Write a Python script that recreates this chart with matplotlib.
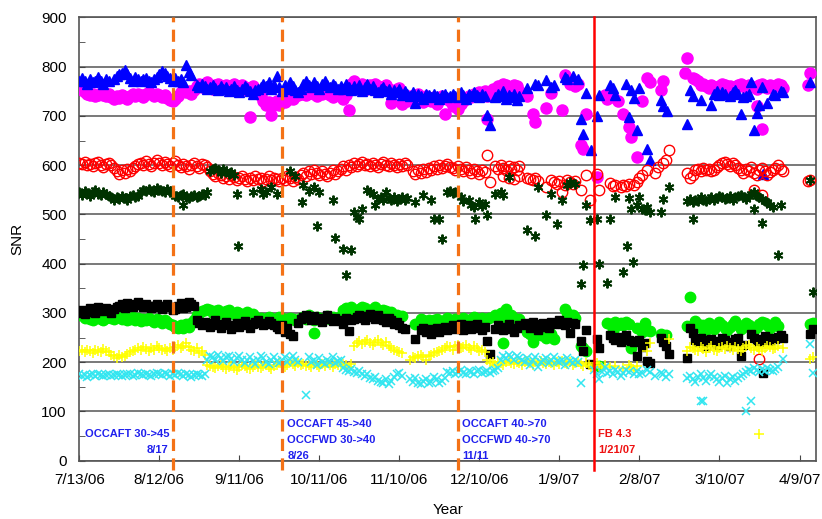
import numpy as np
import pandas as pd
import matplotlib
matplotlib.use("Agg")
import matplotlib.pyplot as plt
import matplotlib.dates as mdates

plt.rcParams['font.family'] = ['Liberation Sans', 'DejaVu Sans']

# ---------------- data (days since 7/13/06, SNR values) ----------------
start_date = '2006-07-13'
x_tick_labels = ['7/13/06', '8/12/06', '9/11/06', '10/11/06', '11/10/06',
                 '12/10/06', '1/9/07', '2/8/07', '3/10/07', '4/9/07']
y_ticks = [0, 100, 200, 300, 400, 500, 600, 700, 800, 900]

# blue triangles
tri_runs = [
    (0, [772, 778, 770, 765, 775, 768, 772, 780, 770, 765, 775, 770]),
    (13, [775, 782, 785, 788, 794, 785, 778, 772, 780, 776, 770, 775, 778, 772, 768, 775]),
    (29, [780, 785, 792, 788, 782, 778, 772, 778, 770, 775, 768]),
    (40, [804, 790, 784]),
    (44, [762, 758, 765, 760, 755, 758, 762, 757, 752, 760, 755, 758, 750, 755, 760, 752, 748, 755,
          760, 757, 750, 745, 752, 755, 758]),
    (69, [765, 760, 768, 755, 762, 782, 758, 750, 762, 755, 768, 760, 752, 748, 755]),
    (84, [765, 770, 762, 758, 768, 760, 755, 765, 770, 762, 758, 765, 760, 755]),
    (98, [760, 755, 765, 758, 752, 760, 755, 762, 750, 758, 765, 755, 760, 752, 748, 755, 758, 750,
          755, 745, 752, 748, 755, 742, 750, 745, 740, 748]),
    (126, [727, 745, 740, 735, 745, 742, 738, 745, 740, 735, 742, 745, 738, 740]),
    (140, [745, 740, 738, 748, 742, 735, 745, 740, 748, 742, 738, 745, 740]),
    (153, [701, 681]),
    (156, [738, 745, 740, 750, 735, 742, 738, 745, 732, 740]),
]
tri_pts_day = [168, 171, 172, 175, 177, 178, 182, 183, 185, 187, 188, 189, 190, 192, 194, 195, 199,
               200, 201, 205, 206, 207, 208, 209, 210, 213, 214, 218, 219, 220.5, 228, 229, 230, 233,
               237, 238, 239, 240, 241, 242, 244, 245, 246, 247, 248, 249, 250, 251, 252, 253, 254,
               255, 256, 256.5, 258, 260, 261, 263, 264, 274]
tri_pts_val = [757, 764, 762, 773, 758, 762, 780, 775, 782, 776, 693, 663, 747, 630, 699, 743, 763,
               757, 743, 765, 698, 753, 737, 671, 757, 632, 610, 733, 721, 711, 683, 753, 741, 733,
               723, 745, 750, 742, 748, 745, 740, 748, 752, 745, 703, 738, 741, 745, 768, 671, 707,
               723, 758, 582, 727, 745, 742, 750, 748, 768]

# magenta filled circles
mag_runs = [
    (0, [757, 752, 748, 745, 742, 745, 740, 743, 746, 742, 740, 745, 738, 735, 740, 737, 742, 738,
         735, 740, 744, 740, 745, 742, 738, 745, 748, 744, 740, 745, 742, 738, 742, 737, 732, 730,
         735, 740, 748, 752, 748, 750, 745, 752]),
    (44, [760, 765, 758, 762, 768, 760, 755, 762, 765, 758, 760, 763, 757, 760, 765, 760, 755, 762,
          758, 752, 755, 760, 752, 748]),
    (68, [740, 730, 722, 728, 718, 725, 730, 722, 735, 728, 732, 738, 735, 740, 742]),
    (83, [745, 750, 742, 748, 755, 745, 740, 750, 745, 752, 748, 742, 738, 745, 750, 740, 735, 742]),
    (102, [765, 771, 762, 758, 765, 760, 755, 762, 758, 765, 760, 752, 758, 762, 755, 727, 750, 755, 757]),
    (121, [725, 735, 730, 740, 738, 732, 745, 735, 728, 740, 735, 730, 738, 725, 732, 740, 703, 735, 730]),
    (140, [720, 728, 715, 725, 730, 735, 740, 738, 745, 742, 748, 745, 750, 740, 748, 755, 752, 760,
           758, 765, 762, 758, 755, 762, 760, 750]),
    (234, [765, 760, 757, 762, 758, 755, 760, 765, 762, 757, 760, 755, 758, 762, 765, 760, 757, 762,
           760, 758, 755, 762, 765, 760, 757, 762, 758, 760, 765, 762, 757]),
]
mag_pts_day = [64, 72, 101, 153, 168, 170, 171, 175, 177, 181, 182, 183, 184, 185, 186, 187, 188, 189,
               190, 194, 197, 198, 199, 200, 202, 204, 206, 207, 209, 211, 213, 214, 218, 219, 227,
               228, 230, 231, 232, 233, 254, 256, 273, 274]
mag_pts_val = [697, 701, 713, 693, 741, 703, 687, 717, 747, 713, 784, 775, 765, 770, 760, 765, 642, 632,
               703, 576, 742, 735, 745, 738, 730, 703, 677, 657, 616, 731, 778, 768, 753, 771, 788,
               818, 778, 775, 771, 762, 721, 673, 762, 788]

# red open circles
red_runs = [
    (0, [605, 603, 607, 600, 602, 598, 604, 606, 600, 597, 603, 605, 600, 595, 588, 582, 590, 585,
         592, 588, 595, 598, 602, 605, 600, 608, 603, 598, 605, 610, 604, 600, 606, 602, 598, 605,
         608, 600, 596, 603, 598, 592, 600, 604, 598, 595, 602, 600, 597]),
    (49, [588, 582, 578, 585, 580, 575, 578, 572, 580, 576, 570, 575, 578, 572, 568, 575, 570, 578,
          572, 575, 568, 572, 578, 570, 575, 572, 568]),
    (76, [575, 570, 578, 573, 568, 576, 572]),
    (83, [580, 585, 578, 588, 582, 590, 585, 580, 588, 583, 578, 585, 590, 582, 588]),
    (98, [592, 598, 590, 600, 596, 604, 598, 602]),
    (106, [606, 600, 603, 598, 605, 600, 596, 603, 607, 600, 598, 604, 600, 597, 602, 598, 604, 600]),
    (125, [588, 582, 590, 585, 592, 586, 595, 590, 598, 592, 600, 595, 598, 602, 596]),
    (140, [595, 590, 598, 592, 588, 596, 590, 585, 593, 588, 582, 590, 586]),
    (156, [598, 592, 600, 595, 590, 598, 592, 596, 590, 598]),
    (168, [575, 572, 570, 575, 568]),
    (228, [585, 575, 580, 590, 592, 588, 595, 590, 592, 588, 590, 596, 600, 605, 606, 602, 598, 604,
           600, 595, 590, 585, 592, 588, 596, 585, 580, 590, 595, 588, 580, 586, 590, 595, 600, 592, 588]),
]
red_pts_day = [153, 154, 159, 161, 163, 165, 175, 177, 178, 179, 180, 181, 182, 183, 184, 185, 186,
               188, 190, 191.6, 194, 195, 199, 200, 201, 203, 204, 205, 206, 208, 209, 210, 211, 213,
               216, 217, 219, 220, 221, 253, 255, 256, 273, 274]
red_pts_val = [620, 566, 578, 575, 572, 578, 556, 570, 565, 562, 568, 545, 560, 570, 565, 562, 568,
               549, 580, 530, 583, 549, 563, 558, 560, 555, 560, 557, 562, 560, 565, 575, 580, 590,
               585, 596, 605, 610, 630, 549, 206, 539, 568, 570]

# dark green asterisks
ast_runs = [
    (0, [545, 540, 548, 543, 538, 545, 550, 542, 540, 546, 541, 538, 535, 530, 536, 532, 538, 534,
         530, 537, 540, 535, 538, 545, 550, 547, 552, 548, 545, 553, 550, 548, 545, 552, 548, 542]),
    (36, [538, 535, 540, 542, 536, 533, 538, 540, 535, 538, 542, 540, 545]),
    (49, [588, 592, 595, 590, 585, 592, 588, 582, 586, 580]),
    (112, [532, 535, 530, 545, 533, 530, 535, 528, 532, 535, 530, 533]),
    (228, [528, 531, 525, 530, 527, 535, 530, 528, 532, 536, 530, 533, 538, 535, 532, 534, 537, 530,
           535, 538, 540, 535, 532, 537, 541, 545, 538, 535, 532, 528, 525, 520, 515]),
]
ast_pts_day = [39, 59, 59.5, 65, 69, 68, 70, 72, 74, 79, 81, 83.5, 84, 86, 88, 89, 90, 95, 96, 99,
               100, 102, 103, 104, 105, 106, 108, 109, 110, 111, 126, 129, 132, 133, 135, 136, 138,
               139, 140, 141, 143, 144, 146, 147, 148, 148.5, 150, 151, 152, 153, 156, 158, 159, 161,
               168, 171, 172, 175, 177, 179, 181, 183, 184, 186, 188, 189, 190, 191.6, 194, 195, 198,
               199, 201, 204, 205.5, 206, 207, 207.5, 209, 210, 211, 212, 213, 214, 218, 219, 221,
               230, 253, 256, 262, 263, 274, 275]
ast_pts_val = [519, 541, 436, 545, 541, 552, 545, 555, 541, 588, 578, 525, 560, 548, 555, 477, 545,
               529, 453, 430, 378, 428, 505, 495, 491, 511, 549, 545, 541, 519, 525, 539, 529, 491,
               491, 451, 545, 548, 543, 545, 535, 528, 530, 520, 515, 491, 525, 518, 522, 499, 541,
               545, 540, 576, 469, 457, 556, 499, 541, 481, 529, 560, 565, 562, 358, 398, 519, 489,
               491, 400, 360, 491, 535, 384, 436, 533, 511, 404, 520, 535, 512, 508, 515, 505, 505,
               531, 556, 491, 511, 483, 418, 520, 570, 343]

# black squares
sq_runs = [
    (0, [300, 305, 298, 302, 310, 306, 300, 312, 308, 304, 310, 305, 300, 308, 312, 315, 318, 310,
         320, 315, 312, 318, 322, 316, 312, 318, 315, 310, 314, 318, 312, 308, 315, 318, 312, 305,
         308, 315, 320, 310, 312, 323, 318, 315]),
    (44, [285, 280, 275, 282, 278, 272, 280, 285, 276, 270, 278, 282, 275, 268, 275, 280, 272, 278,
          283, 276, 270, 278, 282, 285, 280, 275, 278, 283, 280, 276, 272, 268, 275, 262, 270, 258, 253]),
    (82, [280, 288, 292, 295, 290, 285, 293, 290, 286, 282, 290, 295, 288, 284, 290, 286]),
    (98, [283, 278, 290, 263, 285, 288, 292, 296, 290, 285, 293, 298, 292, 288, 295, 290, 285, 282,
          290, 286, 278, 282, 275, 270]),
    (128, [265, 270, 262, 268, 258, 265, 270, 262, 268, 272, 265, 270]),
    (140, [275, 268, 272, 278, 265, 270, 275, 268, 272, 278, 270, 265, 272]),
    (156, [268, 275, 270, 265, 272, 278, 268, 262, 270, 275]),
    (167, [280, 275, 270, 282, 278, 265, 272, 280, 275, 270, 282, 278]),
    (179, [280, 285, 278, 275, 282, 259, 280, 278]),
    (199, [255, 250, 245, 252, 240, 248, 255, 245, 242]),
    (231, [245, 240, 250, 238, 232, 245, 248, 240, 235, 242, 250, 245, 238, 232, 240, 246, 250]),
    (253, [250, 245, 240, 248, 253, 245, 242, 250, 248, 252, 255, 250]),
]
sq_pts_day = [122, 126, 153, 154, 188, 189, 190, 191.6, 194, 195, 208, 209, 210, 211, 212, 213, 214,
              218, 219, 220, 221, 228, 229, 230, 248, 249, 252, 256.5, 274, 275]
sq_pts_val = [267, 248, 242, 216, 242, 222, 265, 196, 246, 228, 240, 212, 245, 230, 238, 202, 198,
              250, 240, 232, 216, 208, 270, 260, 212, 235, 257, 178, 258, 268]

# bright green filled circles
grn_runs = [
    (0, [295, 298, 290, 292, 288, 285, 290, 292, 288, 285, 290, 293, 290, 288, 295, 292, 287, 290,
         285, 288, 292, 286, 290, 284, 288, 285, 290, 286, 282, 288, 285, 280, 285, 282, 278, 275,
         272, 270, 275, 270, 278, 272, 280, 285]),
    (44, [295, 300, 303, 305, 308, 305, 300, 303, 306, 300, 298, 303, 305, 300, 298, 302, 300, 296,
          298, 302, 295, 298]),
    (66, [292, 288, 290, 285, 288, 292, 290, 286, 288, 292, 290, 285, 288, 290, 287, 285]),
    (83, [290, 292, 288, 295, 290, 286, 292, 288, 285, 290, 293, 288, 291, 287, 290, 294]),
    (99, [305, 310, 308, 312, 305, 300, 308, 313, 310, 306, 302, 308, 312, 305, 300, 306, 303, 298,
          302, 296, 295, 290, 293]),
    (128, [288, 285, 282, 286, 280, 285, 288, 283, 280, 286, 290, 285, 282, 288, 284, 286, 290, 285,
           282, 288, 292, 286, 284, 290, 287]),
    (156, [295, 290, 300, 288, 307, 292, 295, 290, 285, 288]),
    (168, [262, 258, 240, 256, 260, 255, 256, 250, 262, 258, 248]),
    (182, [307, 300, 293, 295, 290]),
    (198, [280, 278, 263, 282, 276, 280, 275, 282, 278]),
    (231, [283, 278, 270, 275, 265, 280, 272, 268, 275, 282, 276, 270, 265, 272, 278, 283, 275, 268,
           272, 280, 276, 270, 265, 272, 278, 282, 280, 275, 270, 276, 281, 274]),
]
grn_pts_day = [88, 126, 153.5, 159, 188, 189, 190, 195, 207, 209, 211, 212, 213, 214, 218, 219, 220,
               228, 229, 274, 275]
grn_pts_val = [259, 277, 290, 238, 232, 228, 222, 192, 228, 270, 262, 279, 265, 263, 257, 250, 255,
               273, 333, 277, 280]

# yellow plus signs
yel_runs = [
    (0, [222, 225, 220, 224, 222, 218, 225, 222, 220, 226, 223, 220, 215, 212, 208, 214, 210, 212,
         216, 220, 222, 225, 228, 224, 230, 226, 222, 228, 225, 232, 228, 224, 226, 222, 228, 225,
         230, 235, 228, 232, 238, 230, 225, 222, 228, 218, 222, 215]),
    (48, [195, 192, 190, 188, 192, 195, 190, 186, 190, 193, 188, 185, 190, 195, 192, 188, 186, 190,
          194, 190, 188, 192, 195, 190, 186, 192, 195, 198, 193, 190, 195, 200, 196, 192, 198, 195]),
    (84, [196, 192, 194, 190, 196, 194, 191, 196, 193, 198, 194, 191, 196, 194, 192, 196, 194, 191, 196]),
    (103, [232, 238, 242, 236, 240, 245, 238, 235, 240, 244, 238, 235, 240, 232, 228, 225, 222, 220, 218]),
    (124, [205, 210, 208, 212, 215, 210, 205, 212, 215, 218, 220, 222, 225]),
    (137, [228, 232, 230, 225, 232, 235, 228, 230, 234, 228, 225, 232, 228, 222, 225, 220]),
    (153, [205, 198, 200, 195, 200, 198, 195, 200, 202, 198, 196, 200, 198, 195, 200, 203, 198, 195,
           200, 198, 202, 198, 196, 200, 198, 195, 200, 197, 202, 198, 196, 200, 195, 198, 200, 196,
           192, 198, 195, 190]),
    (230, [228, 225, 222, 230, 226, 220, 228, 232, 225, 222, 228, 230, 226, 232, 228, 224, 230, 226,
           222, 228, 232, 235, 228, 225, 230, 227, 222, 228, 233, 230, 226, 228, 232]),
]
yel_pts_day = [194, 195, 196, 197, 199, 201, 204, 206, 207, 208, 209, 213, 214, 221, 228, 229, 255,
               264, 274, 275]
yel_pts_val = [198, 192, 188, 195, 190, 193, 188, 195, 190, 185, 192, 222, 238, 246, 222, 230, 55,
               228, 206, 210]

# cyan crosses
cyn_runs = [
    (0, [175, 172, 174, 170, 173, 175, 172, 176, 174, 171, 173, 175, 172, 174, 176, 173, 171, 174,
         176, 175, 172, 174, 177, 175, 173, 176, 174, 172, 175, 178, 176, 174, 177, 175, 172, 176,
         174, 178, 175, 172, 176, 174, 170, 173, 176, 174, 172, 175]),
    (48, [205, 212, 210, 205, 215, 208, 202, 210, 213, 206, 200, 208, 212, 205, 198, 204, 210, 202,
          196, 205, 212, 208, 200, 196, 205, 210, 203, 198, 205, 210, 200, 206, 212, 205, 200]),
    (86, [210, 200, 205, 195, 208, 200, 196, 205, 200, 210, 198, 202, 205]),
    (99, [188, 185, 182, 186, 180, 178, 182, 176, 172, 175, 168, 165, 170, 162, 160, 158, 165, 155,
          162, 170, 175, 178, 172]),
    (124, [165, 160, 168, 158, 155, 162, 165, 158, 160, 170, 165, 158, 162, 168]),
    (138, [180, 178, 182, 176, 180, 184, 178, 175, 182, 180, 176, 182, 185, 178, 180, 183, 178, 182, 185, 188]),
    (158, [205, 212, 208, 215, 210, 205, 212, 208]),
    (166, [205, 200, 208, 195, 205, 210, 190, 200, 205, 208, 198, 205, 210, 202, 200, 205, 195, 208,
           203, 198, 205, 200]),
    (228, [168, 172, 165, 160, 170, 175, 168, 162, 172, 176, 170, 165, 160, 168, 172, 158, 165, 170,
           162, 168, 172, 175, 180, 185, 182, 188, 184, 180, 186, 183, 188, 185, 182, 186, 190]),
]
cyn_pts_day = [85, 188, 193, 194, 195, 196, 197, 198, 199, 200, 201, 202, 203, 204, 205, 206, 208,
               209, 210, 211, 213, 214, 216, 218, 219, 220, 221, 233, 234, 250, 252, 264, 274, 275]
cyn_pts_val = [133, 158, 185, 175, 165, 180, 190, 178, 182, 176, 185, 180, 172, 178, 185, 180, 176,
               182, 175, 178, 185, 180, 172, 178, 175, 170, 176, 121, 122, 101, 121, 206, 236, 178]

# configuration-change events
event_dates = ['2006-08-17', '2006-09-27', '2006-12-02', '2007-01-22']
event_kinds = ['dash', 'dash', 'dash', 'solid']
note_texts = ['OCCAFT 30->45', '8/17',
              'OCCAFT 45->40', 'OCCFWD 30->40', '8/26',
              'OCCAFT 40->70', 'OCCFWD 40->70', '11/11',
              'FB 4.3', '1/21/07']

# ---------------- helpers ----------------
base = mdates.date2num(np.datetime64(start_date))


def build(runs, pts_day, pts_val):
    d, v = [], []
    for s, vals in runs:
        d.extend(s + np.arange(len(vals)))
        v.extend(vals)
    d.extend(pts_day)
    v.extend(pts_val)
    return base + np.asarray(d, dtype=float), np.asarray(v, dtype=float)


fig = plt.figure(figsize=(8.22, 5.19), dpi=100)
ax = fig.add_axes([0.0965, 0.1125, 0.8956, 0.8538])

series = [
    (mag_runs, mag_pts_day, mag_pts_val, dict(marker='o', ms=8, mfc='#ff00ff', mec='#ff00ff', zorder=3)),
    (tri_runs, tri_pts_day, tri_pts_val, dict(marker='^', ms=7, mfc='#0000ff', mec='#0000ff', zorder=4)),
    (red_runs, red_pts_day, red_pts_val, dict(marker='o', ms=7.5, mfc='none', mec='#ff0000', mew=1.0, zorder=4)),
    (ast_runs, ast_pts_day, ast_pts_val, dict(marker=(6, 2, 0), ms=7, mec='#003300', mew=1.4, zorder=5)),
    (grn_runs, grn_pts_day, grn_pts_val, dict(marker='o', ms=7.5, mfc='#00ee00', mec='#00ee00', zorder=3)),
    (sq_runs, sq_pts_day, sq_pts_val, dict(marker='s', ms=6, mfc='#000000', mec='#000000', zorder=4)),
    (yel_runs, yel_pts_day, yel_pts_val, dict(marker='+', ms=7, mec='#ffff00', mew=1.1, zorder=4)),
    (cyn_runs, cyn_pts_day, cyn_pts_val, dict(marker='x', ms=5.5, mec='#33e6f0', mew=1.1, zorder=4)),
]
for runs, pd_, pv_, st in series:
    x, y = build(runs, pd_, pv_)
    ax.plot(x, y, linestyle='none', **st)

# event lines
ev_x = mdates.date2num(pd.to_datetime(event_dates).values)
for xv, kind in zip(ev_x, event_kinds):
    if kind == 'dash':
        ax.plot([xv, xv], [-19, 900], color='#f47216', lw=2.3, linestyle=(0, (3.8, 2.3)),
                clip_on=False, zorder=6, solid_capstyle='butt', dash_capstyle='butt')
    else:
        ax.plot([xv, xv], [-19, 900], color='#ff0000', lw=1.8, clip_on=False, zorder=6)

# annotations: (day offset, value, align, colour)
note_layout = [(2.1, 47.3, 'left', '#2020ee'), (33.4, 14.8, 'right', '#2020ee'),
               (78.0, 68.9, 'left', '#2020ee'), (78.0, 35.1, 'left', '#2020ee'), (78.0, 3.2, 'left', '#2020ee'),
               (143.4, 68.9, 'left', '#2020ee'), (143.4, 35.1, 'left', '#2020ee'), (143.4, 3.2, 'left', '#2020ee'),
               (194.6, 47.3, 'left', '#ee1111'), (194.6, 14.8, 'left', '#ee1111')]
for txt, (dx, yv, ha, col) in zip(note_texts, note_layout):
    ax.text(base + dx, yv, txt, ha=ha, va='baseline', fontsize=8, fontweight='bold', color=col, zorder=7)

# axes formatting
tick_x = mdates.date2num(pd.to_datetime(x_tick_labels, format='%m/%d/%y').values)
ax.set_xlim(base, base + 276.0)
ax.set_ylim(0, 900)
ax.set_xticks(tick_x)
ax.set_xticklabels(x_tick_labels, fontsize=11)
ax.set_yticks(y_ticks)
ax.set_yticklabels([str(t) for t in y_ticks], fontsize=11)
ax.set_yticks(np.arange(50, 900, 100), minor=True)
ax.tick_params(axis='x', direction='in', length=4, color='#444444', pad=9)
ax.tick_params(axis='y', which='both', direction='in', length=4, color='#444444', pad=9)
ax.yaxis.grid(True, which='major', color='#555555', lw=1.1, zorder=1)
ax.set_axisbelow(True)
for sp in ax.spines.values():
    sp.set_color('#555555')
    sp.set_linewidth(1.2)

ax.set_ylabel('SNR', fontsize=11)
ax.set_xlabel('Year', fontsize=11)
ax.yaxis.set_label_coords(-0.074, 0.5)
ax.xaxis.set_label_coords(0.501, -0.095)

fig.savefig('out.png', dpi=100)
